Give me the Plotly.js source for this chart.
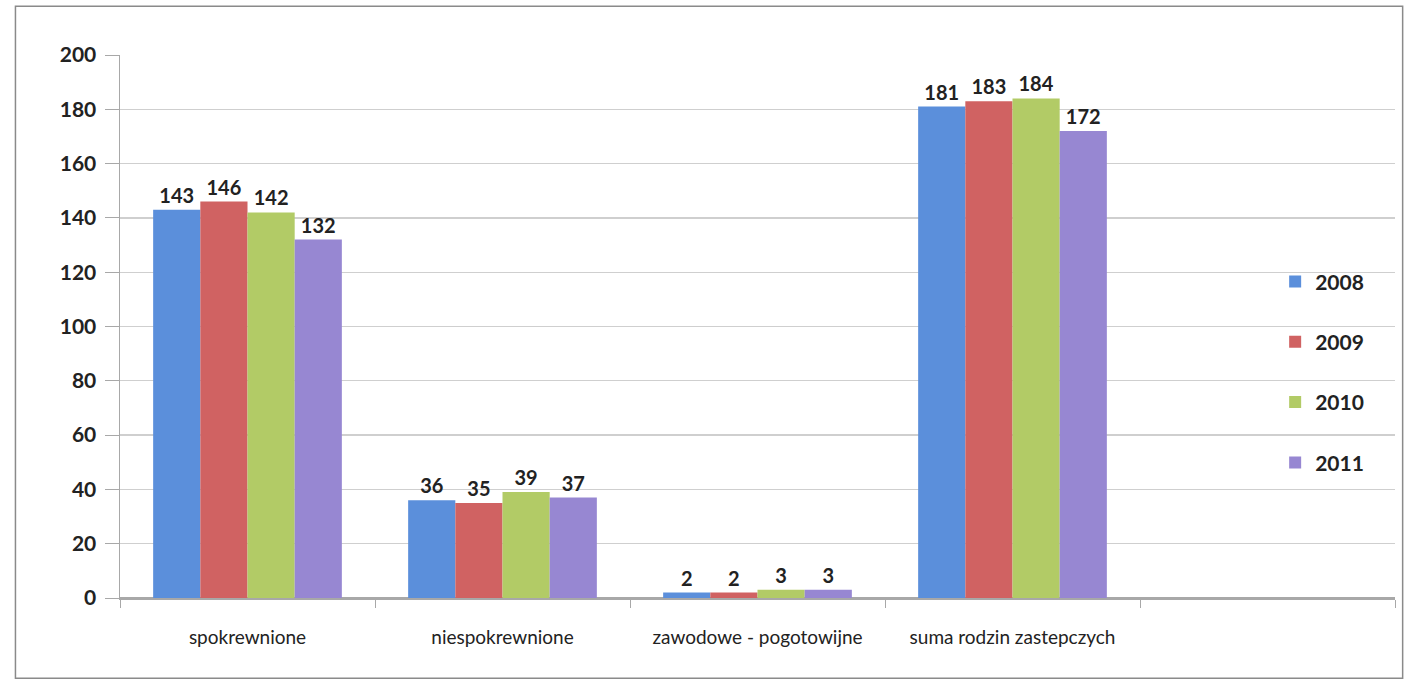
<!DOCTYPE html>
<html>
<head>
<meta charset="utf-8">
<script src="https://cdn.plot.ly/plotly-3.0.1.min.js"></script>
<style>
html,body{margin:0;padding:0;background:#fff;}
#chart{width:1409px;height:683px;}
</style>
</head>
<body>
<div id="chart"></div>
<script>
const categories = ["spokrewnione", "niespokrewnione", "zawodowe - pogotowijne", "suma rodzin zastepczych"];
const extraSlot = " ";
const years = ["2008", "2009", "2010", "2011"];
const v2008 = [143, 36, 2, 181];
const v2009 = [146, 35, 2, 183];
const v2010 = [142, 39, 3, 184];
const v2011 = [132, 37, 3, 172];
const yTicks = [0, 20, 40, 60, 80, 100, 120, 140, 160, 180, 200];

const seriesValues = [v2008, v2009, v2010, v2011];
const colors = ["#5b8fdb", "#d06262", "#b2cb66", "#9787d2"];
const fontFam = "Lato, 'Open Sans', 'DejaVu Sans', sans-serif";

const traces = years.map((yr, i) => ({
  type: "bar",
  name: yr,
  x: categories,
  y: seriesValues[i],
  marker: {color: colors[i]},
  text: seriesValues[i].map(String),
  textposition: "outside",
  cliponaxis: false,
  textfont: {family: fontFam, size: 20, color: "#222", weight: "bold"},
  legendgroup: "g" + i
}));

const layout = {
  width: 1409, height: 683,
  margin: {l: 120, r: 14, t: 55, b: 85},
  paper_bgcolor: "#ffffff",
  plot_bgcolor: "#ffffff",
  barmode: "group",
  bargap: 0.26,
  bargroupgap: 0,
  showlegend: true,
  legend: {
    x: 0.906, y: 0.62, xanchor: "left", yanchor: "top",
    bgcolor: "rgba(255,255,255,0)",
    font: {family: fontFam, size: 21, color: "#222", weight: "bold"},
    tracegroupgap: 30,
    itemwidth: 30
  },
  xaxis: {
    type: "category",
    categoryorder: "array",
    categoryarray: categories.concat([extraSlot]),
    range: [-0.5, 4.5],
    showgrid: false,
    showline: true, linecolor: "#a8a8a8", linewidth: 1.5,
    ticks: "outside", tickson: "boundaries", ticklen: 8, tickcolor: "#a8a8a8",
    tickfont: {family: fontFam, size: 19, color: "#222"},
    ticklabelstandoff: 22,
    zeroline: false
  },
  yaxis: {
    range: [0, 200],
    tickvals: yTicks,
    showgrid: true, gridcolor: "#cfcfcf", gridwidth: 1.3,
    showline: true, linecolor: "#a8a8a8", linewidth: 1.5,
    ticks: "outside", ticklen: 14, tickcolor: "#a8a8a8",
    tickfont: {family: fontFam, size: 21, color: "#222", weight: "bold"},
    ticklabelstandoff: 4,
    zeroline: true, zerolinecolor: "#a8a8a8", zerolinewidth: 1.5,
    fixedrange: true
  },
  shapes: [{
    type: "rect", xref: "paper", yref: "paper",
    x0: -0.082, x1: 1.006, y0: -0.148, y1: 1.09,
    line: {color: "#8a8a8a", width: 1.5}, fillcolor: "rgba(0,0,0,0)", layer: "below"
  }]
};

Plotly.newPlot("chart", traces, layout, {displayModeBar: false, staticPlot: true});
</script>
</body>
</html>
